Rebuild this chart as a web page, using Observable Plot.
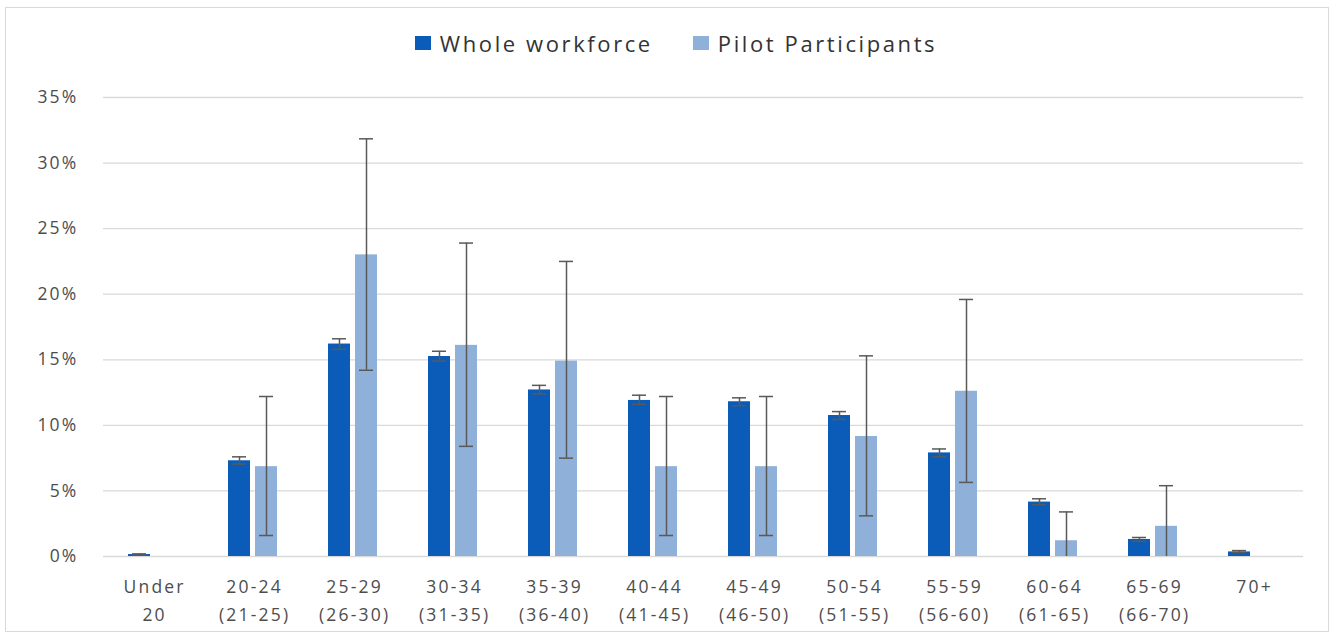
<!DOCTYPE html>
<html>
<head>
<meta charset="utf-8">
<script src="https://cdn.jsdelivr.net/npm/d3@7"></script>
<script src="https://cdn.jsdelivr.net/npm/@observablehq/plot@0.6"></script>
<style>
  html, body { margin: 0; padding: 0; background: #fff; }
  body { width: 1335px; height: 639px; position: relative; overflow: hidden; font-family: "Open Sans", sans-serif; }
  .frame { position: absolute; left: 5px; top: 7px; width: 1324px; height: 625px; border: 1.5px solid #d9d9d9; box-sizing: border-box; }
  .legend { position: absolute; top: 28px; left: 0; width: 1335px; display: flex; justify-content: center; gap: 40px; padding-left: 17px; box-sizing: border-box; font-size: 22px; letter-spacing: 2.6px; color: #333; }
  .legend .item { display: flex; align-items: center; gap: 9px; }
  .legend .sw { width: 16px; height: 14px; display: inline-block; }
  #chart { position: absolute; top: 70px; left: 0; }
</style>
</head>
<body>
<div class="frame"></div>
<div class="legend" id="legend"></div>
<div id="chart"></div>
<script>
const categories = ["Under\n20", "20-24\n(21-25)", "25-29\n(26-30)", "30-34\n(31-35)", "35-39\n(36-40)", "40-44\n(41-45)", "45-49\n(46-50)", "50-54\n(51-55)", "55-59\n(56-60)", "60-64\n(61-65)", "65-69\n(66-70)", "70+"];
const series = ["Whole workforce", "Pilot Participants"];
const colors = ["#0a5cb8", "#8fb0d8"];

// percent values
const whole   = [0.15, 7.3, 16.2, 15.25, 12.7, 11.9, 11.8, 10.75, 7.9, 4.15, 1.3, 0.35];
const wholeLo = [0.1, 7.05, 15.8, 14.9, 12.4, 11.6, 11.5, 10.45, 7.6, 3.95, 1.15, 0.3];
const wholeHi = [0.2, 7.6, 16.6, 15.65, 13.05, 12.3, 12.1, 11.05, 8.2, 4.4, 1.45, 0.45];
const pilot   = [0, 6.85, 23.0, 16.1, 14.9, 6.85, 6.85, 9.15, 12.6, 1.2, 2.3, 0];
const pilotLo = [null, 1.6, 14.2, 8.4, 7.5, 1.6, 1.6, 3.1, 5.65, 0, 0, null];
const pilotHi = [null, 12.2, 31.85, 23.9, 22.5, 12.2, 12.2, 15.3, 19.6, 3.4, 5.4, null];

const yTicks = [0, 5, 10, 15, 20, 25, 30, 35];

const rows = categories.flatMap((c, i) => [
  {cat: c, series: series[0], value: whole[i], lo: wholeLo[i], hi: wholeHi[i]},
  {cat: c, series: series[1], value: pilot[i], lo: pilotLo[i], hi: pilotHi[i]}
]);
const errRows = rows.filter(d => d.hi != null);
const loCaps = errRows.filter(d => d.lo > 0);

// legend
const legend = document.getElementById("legend");
series.forEach((s, i) => {
  const it = document.createElement("div");
  it.className = "item";
  const sw = document.createElement("span");
  sw.className = "sw";
  sw.style.background = colors[i];
  const t = document.createElement("span");
  t.textContent = s;
  it.appendChild(sw); it.appendChild(t);
  legend.appendChild(it);
});

const chart = Plot.plot({
  width: 1335,
  height: 569,
  marginLeft: 99,
  marginRight: 29,
  marginTop: 27,
  marginBottom: 83,
  style: {fontFamily: "'Open Sans', sans-serif", fontSize: "17.5px", letterSpacing: "2.2px", color: "#4d4d4d", background: "transparent", overflow: "visible"},
  fx: {domain: categories, padding: 0, label: null, axis: null},
  x: {domain: series, paddingInner: 0.18, paddingOuter: 0.919, axis: null},
  y: {domain: [0, 35], axis: null},
  color: {domain: series, range: colors},
  marks: [
    Plot.gridY(yTicks, {stroke: "#d9d9d9", strokeOpacity: 1, strokeWidth: 1.3}),
    Plot.axisY(yTicks, {tickFormat: d => d + "%", tickSize: 0, tickPadding: 25, label: null, fill: "#4d4d4d"}),
    Plot.axisFx({anchor: "bottom", tickSize: 0, tickPadding: 17, lineHeight: 1.58, label: null, fill: "#4d4d4d", dx: 1.1}),
    Plot.barY(rows, {fx: "cat", x: "series", y: "value", fill: "series"}),
    Plot.ruleX(errRows, {fx: "cat", x: "series", y1: d => Math.max(0, d.lo), y2: "hi", stroke: "#595959", strokeWidth: 1.5}),
    Plot.tickY(errRows, {fx: "cat", x: "series", y: "hi", stroke: "#595959", strokeWidth: 1.5, insetLeft: 4, insetRight: 4}),
    Plot.tickY(loCaps, {fx: "cat", x: "series", y: "lo", stroke: "#595959", strokeWidth: 1.5, insetLeft: 4, insetRight: 4})
  ]
});
document.getElementById("chart").appendChild(chart);
</script>
</body>
</html>
